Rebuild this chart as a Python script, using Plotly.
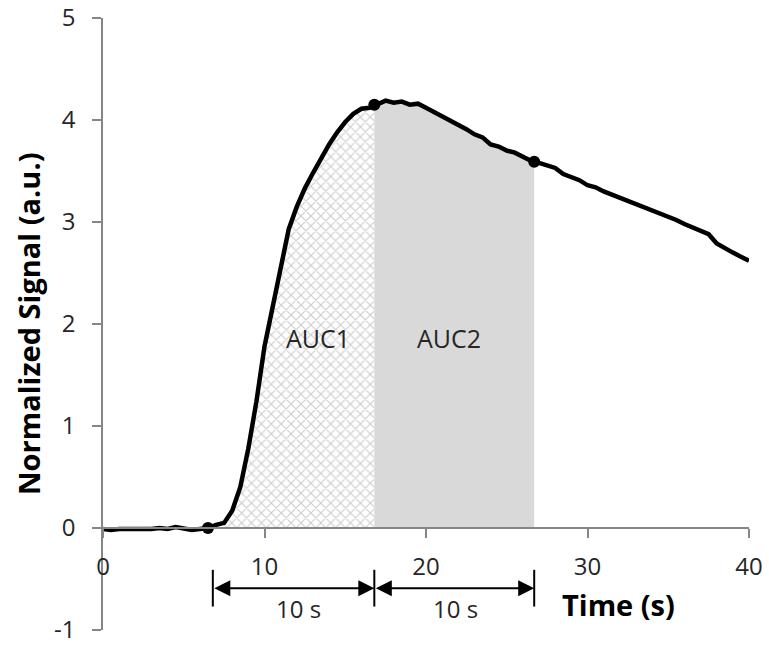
import plotly.graph_objects as go

# Normalized signal trace, every 0.5 s
time_s = [0.0, 0.5, 1.0, 1.5, 2.0, 2.5, 3.0, 3.5, 4.0, 4.5,
          5.0, 5.5, 6.0, 6.5, 7.0, 7.5, 8.0, 8.5, 9.0, 9.5,
          10.0, 10.5, 11.0, 11.5, 12.0, 12.5, 13.0, 13.5, 14.0, 14.5,
          15.0, 15.5, 16.0, 16.5, 17.0, 17.5, 18.0, 18.5, 19.0, 19.5,
          20.0, 20.5, 21.0, 21.5, 22.0, 22.5, 23.0, 23.5, 24.0, 24.5,
          25.0, 25.5, 26.0, 26.5, 27.0, 27.5, 28.0, 28.5, 29.0, 29.5,
          30.0, 30.5, 31.0, 31.5, 32.0, 32.5, 33.0, 33.5, 34.0, 34.5,
          35.0, 35.5, 36.0, 36.5, 37.0, 37.5, 38.0, 38.5, 39.0, 39.5, 40.0]
signal = [-0.01, -0.02, -0.01, -0.01, -0.02, -0.01, -0.01, 0.00, -0.01, 0.01,
          -0.01, -0.02, -0.01, 0.00, 0.03, 0.05, 0.17, 0.40, 0.78, 1.24,
          1.78, 2.18, 2.58, 2.93, 3.15, 3.33, 3.48, 3.63, 3.76, 3.88,
          3.98, 4.06, 4.11, 4.12, 4.16, 4.19, 4.17, 4.18, 4.15, 4.16,
          4.12, 4.08, 4.03, 4.00, 3.95, 3.91, 3.86, 3.83, 3.76, 3.74,
          3.70, 3.68, 3.64, 3.60, 3.58, 3.55, 3.53, 3.47, 3.44, 3.41,
          3.36, 3.34, 3.30, 3.27, 3.24, 3.21, 3.18, 3.14, 3.11, 3.09,
          3.05, 3.02, 2.98, 2.95, 2.92, 2.88, 2.79, 2.74, 2.70, 2.66, 2.62]

# key points: onset, end of AUC1, end of AUC2
key_t = [6.5, 16.8, 26.7]
key_y = [0.00, 4.15, 3.59]

# dimension spans below the axis
span_edges = [6.8, 16.8, 26.7]
span_labels = ["10 s", "10 s"]
span_label_x = [12.1, 21.8]

tick_x = [0, 10, 20, 30, 40]
tick_y = [-1, 0, 1, 2, 3, 4, 5]
tick_y_text = ["-1", "0", "1", "2", "3", "4", "5"]

FONT = "Open Sans"
AXIS_GREY = "#868686"
TEXT = "#262626"

# build the two shaded areas from the curve and the key points
auc1_t = [t for t in time_s if key_t[0] <= t < key_t[1]] + [key_t[1]]
auc1_y = [s for t, s in zip(time_s, signal) if key_t[0] <= t < key_t[1]] + [key_y[1]]
auc2_t = [key_t[1]] + [t for t in time_s if key_t[1] < t < key_t[2]] + [key_t[2]]
auc2_y = [key_y[1]] + [s for t, s in zip(time_s, signal) if key_t[1] < t < key_t[2]] + [key_y[2]]

fig = go.Figure()

fig.add_trace(go.Scatter(x=auc1_t, y=auc1_y, mode="none", fill="tozeroy",
                         fillcolor="white",
                         fillpattern=dict(shape="x", fgcolor="#9a9a9a", bgcolor="white",
                                          size=7, solidity=0.3),
                         showlegend=False, hoverinfo="skip"))
fig.add_trace(go.Scatter(x=auc2_t, y=auc2_y, mode="none", fill="tozeroy",
                         fillcolor="#d9d9d9", showlegend=False, hoverinfo="skip"))

# signal curve
fig.add_trace(go.Scatter(x=time_s, y=signal, mode="lines",
                         line=dict(color="black", width=4.5),
                         showlegend=False))
fig.add_trace(go.Scatter(x=key_t, y=key_y, mode="markers",
                         marker=dict(color="black", size=12),
                         showlegend=False))

# span bars and double arrows
for e in span_edges:
    fig.add_shape(type="line", xref="x", yref="y", x0=e, x1=e, y0=-0.41, y1=-0.77,
                  line=dict(color="black", width=2))
for i in range(len(span_edges) - 1):
    fig.add_annotation(x=span_edges[i + 1], y=-0.59, ax=span_edges[i], ay=-0.59,
                       xref="x", yref="y", axref="x", ayref="y", text="",
                       showarrow=True, arrowhead=2, arrowside="end+start",
                       arrowsize=1.6, arrowwidth=2, arrowcolor="black")
    fig.add_annotation(x=span_label_x[i], y=-0.79, text=span_labels[i], showarrow=False,
                       font=dict(family=FONT, size=24, color=TEXT))

fig.add_annotation(x=13.3, y=1.86, text="AUC1", showarrow=False,
                   font=dict(family=FONT, size=25, color=TEXT))
fig.add_annotation(x=21.4, y=1.86, text="AUC2", showarrow=False,
                   font=dict(family=FONT, size=25, color=TEXT))

# axis titles
fig.add_annotation(x=31.9, y=-0.75, text="<b>Time (s)</b>", showarrow=False,
                   xanchor="center", yanchor="middle",
                   font=dict(family=FONT, size=29, color="black"))
fig.add_annotation(xref="paper", x=0, xshift=-75, y=2.0, text="<b>Normalized Signal (a.u.)</b>",
                   textangle=-90, showarrow=False, xanchor="center", yanchor="middle",
                   font=dict(family=FONT, size=29, color="black"))

fig.update_xaxes(range=[0, 40], tickvals=tick_x, anchor="free", position=1 / 6,
                 automargin=False, ticklabeloverflow="allow",
                 showline=True, linecolor=AXIS_GREY, linewidth=1.5,
                 ticks="outside", ticklen=9, tickwidth=1.5, tickcolor=AXIS_GREY,
                 ticklabelstandoff=8, showgrid=False, zeroline=False,
                 tickfont=dict(family=FONT, size=24, color=TEXT))
fig.update_yaxes(range=[-1, 5], tickvals=tick_y, ticktext=tick_y_text,
                 automargin=False, ticklabeloverflow="allow",
                 showline=True, linecolor=AXIS_GREY, linewidth=1.5,
                 ticks="outside", ticklen=9, tickwidth=1.5, tickcolor=AXIS_GREY,
                 ticklabelstandoff=12, showgrid=False, zeroline=False,
                 tickfont=dict(family=FONT, size=24, color=TEXT))

fig.update_layout(width=769, height=650, margin=dict(l=103, r=20, t=18, b=20),
                  plot_bgcolor="white", paper_bgcolor="white")

# drop the default page margin so the figure fills the window
fig.write_html("out.html", config={"displayModeBar": False},
               post_script="document.body.style.margin = '0';")
